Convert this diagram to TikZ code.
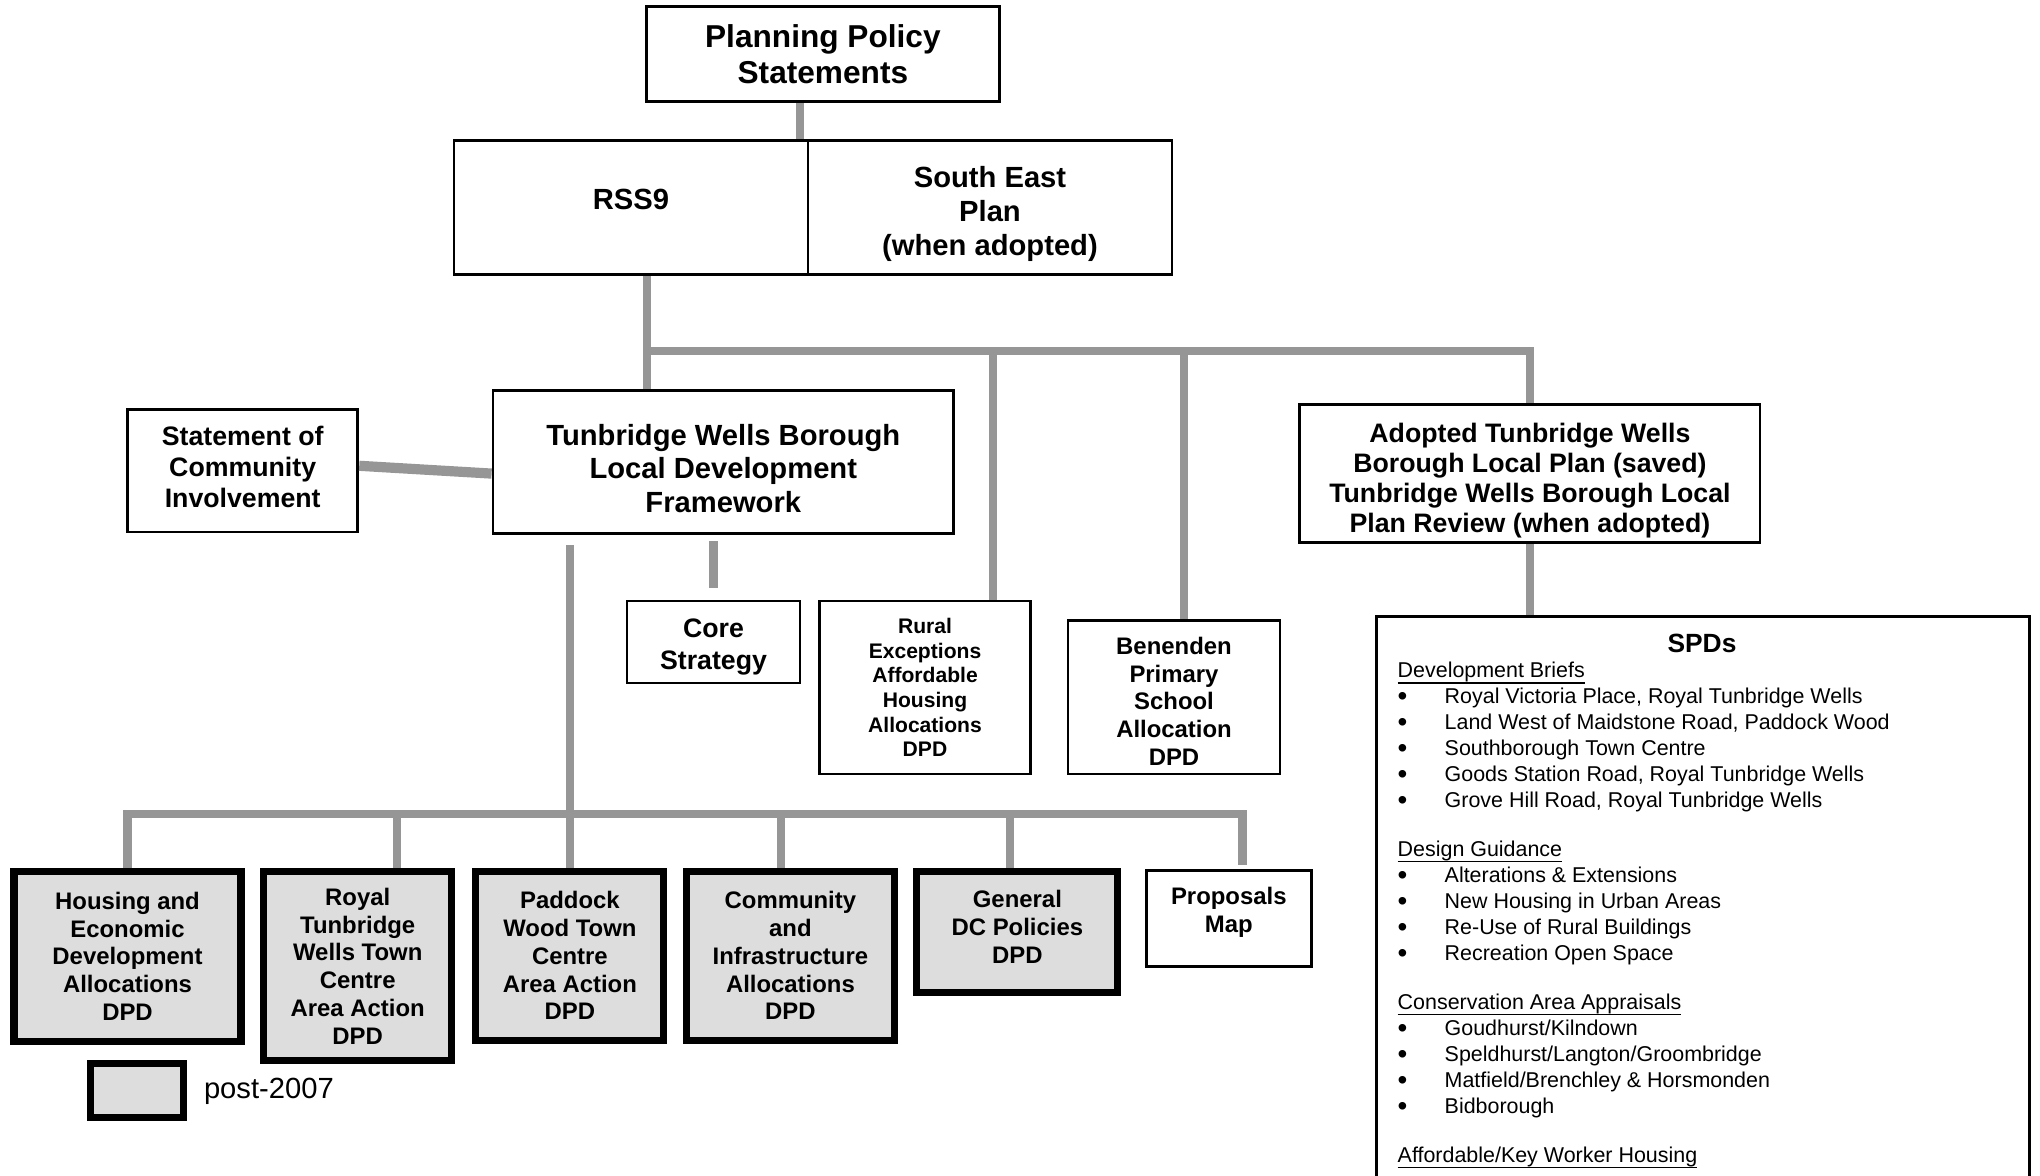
\documentclass[tikz,border=0pt]{standalone}
\usepackage{fontspec}
\setmainfont{Liberation Sans}
\usepackage{graphicx}
\usepackage{tikz}
\usetikzlibrary{positioning}
\definecolor{linkgray}{RGB}{150,150,150}
\definecolor{postgray}{RGB}{221,221,221}
\newcommand{\boxfont}[2]{\bfseries\fontsize{#1}{#2}\selectfont}
\newcommand{\spdbullet}{\raisebox{-0.4pt}{\scalebox{1.3}{\textbullet}}}
\newcommand{\spdhead}[1]{\multicolumn{2}{@{}l@{}}{\underline{\smash{#1}}}}

\begin{document}
\begin{tikzpicture}[x=1cm,y=-1cm,
  box/.style={draw,line width=0.8pt,align=center,inner sep=0pt},
  postbox/.style={box,line width=2pt,fill=postgray},
  boxtext/.style={inner sep=0pt,align=center},
  link/.style={draw=linkgray,line width=2.3pt}]
  \useasboundingbox (0,0) rectangle (20.40,11.76);
  \clip (0,0) rectangle (20.40,11.76);
  % national and regional
  \node[box,minimum width=3.526cm,minimum height=0.95cm,font=\boxfont{9}{10.4}] (pps) at (8.229,0.540) {Planning Policy\\Statements};
  \node[box,minimum width=3.54cm,minimum height=1.34cm,
    label={[boxtext,font=\boxfont{8.3}{9.6},yshift=0.08cm]center:RSS9}] (rss) at (6.310,2.075) {};
  \node[box,minimum width=3.64cm,minimum height=1.34cm,
    label={[boxtext,font=\boxfont{8.3}{9.6},yshift=-0.065cm]center:South East\\Plan\\(when adopted)}] (sep) at (9.900,2.075) {};
  % local framework
  \node[box,minimum width=2.303cm,minimum height=1.222cm,
    label={[boxtext,font=\boxfont{7.6}{8.9},yshift=0.04cm]center:Statement of\\Community\\Involvement}] (sci) at (2.427,4.709) {};
  \node[box,minimum width=4.606cm,minimum height=1.431cm,
    label={[boxtext,font=\boxfont{8.3}{9.6},yshift=-0.065cm]center:Tunbridge Wells Borough\\Local Development\\Framework}] (ldf) at (7.233,4.619) {};
  \node[box,minimum width=4.603cm,minimum height=1.379cm,
    label={[boxtext,font=\boxfont{7.6}{8.6},yshift=-0.07cm]center:Adopted Tunbridge Wells\\Borough Local Plan (saved)\\Tunbridge Wells Borough Local\\Plan Review (when adopted)}] (adopted) at (15.299,4.736) {};
  \node[box,minimum width=1.73cm,minimum height=0.82cm,
    label={[boxtext,font=\boxfont{7.6}{8.9},yshift=-0.05cm]center:Core\\Strategy}] (core) at (7.135,6.420) {};
  \node[box,minimum width=2.108cm,minimum height=1.73cm,font=\boxfont{6}{7}] (rural) at (9.250,6.875) {Rural\\Exceptions\\Affordable\\Housing\\Allocations\\DPD};
  \node[box,minimum width=2.12cm,minimum height=1.534cm,
    label={[boxtext,font=\boxfont{6.8}{7.9},yshift=-0.04cm]center:Benenden\\Primary\\School\\Allocation\\DPD}] (benen) at (11.740,6.973) {};
  % development plan documents
  \node[postbox,minimum width=2.27cm,minimum height=1.70cm,font=\boxfont{6.8}{7.9}] (housing) at (1.275,9.563) {Housing and\\Economic\\Development\\Allocations\\DPD};
  \node[postbox,minimum width=1.88cm,minimum height=1.89cm,font=\boxfont{6.8}{7.9}] (royal) at (3.577,9.660) {Royal\\Tunbridge\\Wells Town\\Centre\\Area Action\\DPD};
  \node[postbox,minimum width=1.88cm,minimum height=1.69cm,font=\boxfont{6.8}{7.9}] (paddock) at (5.699,9.556) {Paddock\\Wood Town\\Centre\\Area Action\\DPD};
  \node[postbox,minimum width=2.08cm,minimum height=1.69cm,font=\boxfont{6.8}{7.9}] (community) at (7.904,9.556) {Community\\and\\Infrastructure\\Allocations\\DPD};
  \node[postbox,minimum width=2.01cm,minimum height=1.21cm,
    label={[boxtext,font=\boxfont{6.8}{7.9},yshift=0.05cm]center:General\\DC Policies\\DPD}] (general) at (10.174,9.316) {};
  \node[box,minimum width=1.652cm,minimum height=0.962cm,
    label={[boxtext,font=\boxfont{6.8}{7.9},yshift=0.065cm]center:Proposals\\Map}] (proposals) at (12.288,9.185) {};
  % key
  \node[postbox,minimum width=0.93cm,minimum height=0.54cm] (legend) at (1.373,10.909) {};
  \node[right=0.16cm of legend,inner sep=0pt,font=\fontsize{8.3}{10}\selectfont] (postlabel) {post-2007};
  % supplementary planning documents
  \node[box,anchor=north,minimum width=6.53cm,minimum height=6.0cm] (spd) at (17.03,6.154) {};
  \node[anchor=north,inner sep=0pt,font=\boxfont{7.5}{9}] (spdtitle) at (17.02,6.33) {SPDs};
  \node[anchor=north west,inner sep=0pt,align=left,font=\fontsize{6.1}{7.4}\selectfont] (spdlist) at (13.97,6.59) {%
    \begin{tabular}{@{}p{0.47cm}@{}l@{}}
      \spdhead{Development Briefs}\\
      \spdbullet & Royal Victoria Place, Royal Tunbridge Wells\\
      \spdbullet & Land West of Maidstone Road, Paddock Wood\\
      \spdbullet & Southborough Town Centre\\
      \spdbullet & Goods Station Road, Royal Tunbridge Wells\\
      \spdbullet & Grove Hill Road, Royal Tunbridge Wells\\[6.5pt]
      \spdhead{Design Guidance}\\
      \spdbullet & Alterations \& Extensions\\
      \spdbullet & New Housing in Urban Areas\\
      \spdbullet & Re-Use of Rural Buildings\\
      \spdbullet & Recreation Open Space\\[6.5pt]
      \spdhead{Conservation Area Appraisals}\\
      \spdbullet & Goudhurst/Kilndown\\
      \spdbullet & Speldhurst/Langton/Groombridge\\
      \spdbullet & Matfield/Brenchley \& Horsmonden\\
      \spdbullet & Bidborough\\[6.5pt]
      \spdhead{Affordable/Key Worker Housing}
    \end{tabular}};
  % connectors
  \coordinate (ppsdrop) at (8.00,0.60);
  \coordinate (topbar) at (6.466,3.513);
  \coordinate (ruraldrop) at (9.927,3.513);
  \coordinate (benendrop) at (11.84,3.513);
  \coordinate (bottombar) at (5.699,8.144);
  \coordinate (mapdrop) at (12.425,8.65);
  \coordinate (royaldrop) at (3.968,8.144);
  \coordinate (commdrop) at (7.806,8.144);
  \coordinate (gendrop) at (10.096,8.144);
  \draw[link] (pps.south -| ppsdrop) -- (rss.north -| ppsdrop);
  \draw[link] (rss.south -| topbar) -- (ldf.north -| topbar);
  \draw[link] (topbar) -- (topbar -| adopted.north) -- (adopted.north);
  \draw[link] (ruraldrop) -- (rural.north -| ruraldrop);
  \draw[link] (benendrop) -- (benen.north -| benendrop);
  \draw[link] (adopted.south) -- (adopted.south |- spd.north);
  \draw[link,line width=2.9pt] ([yshift=0.051cm]sci.east) -- ([yshift=-0.117cm]ldf.west);
  \draw[link] ([yshift=-0.066cm]ldf.south -| core.north) -- ([yshift=0.116cm]core.north);
  \draw[link] ([yshift=-0.104cm]ldf.south -| paddock.north) -- (paddock.north);
  \draw[link] (housing.north) |- (bottombar) -| (mapdrop);
  \foreach \d/\b in {royaldrop/royal,commdrop/community,gendrop/general}
    \draw[link] (\d) -- (\b.north -| \d);
\end{tikzpicture}
\end{document}
